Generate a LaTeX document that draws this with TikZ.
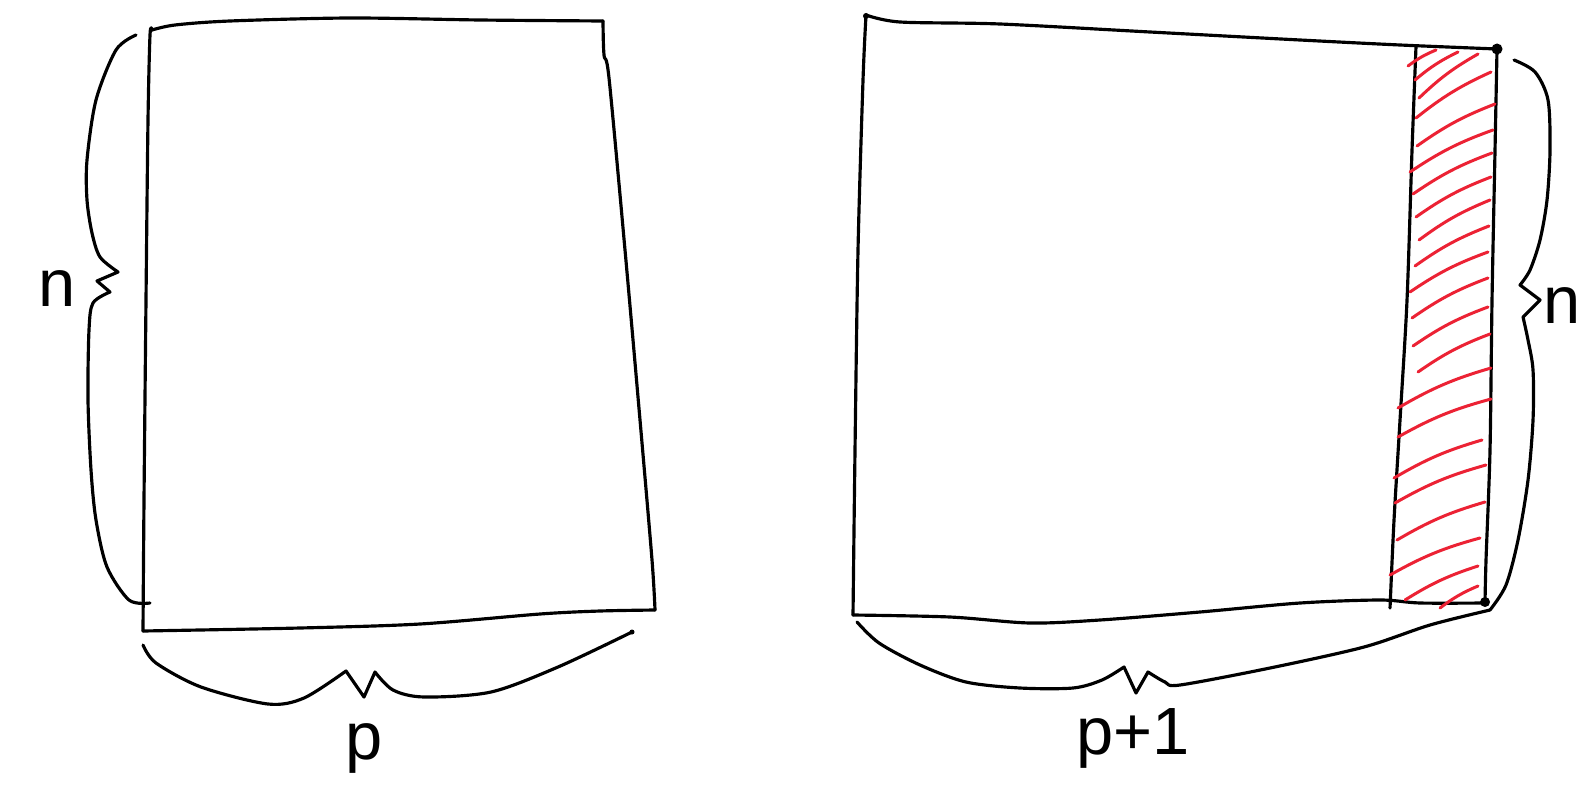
\documentclass[tikz,border=0pt]{standalone}
\usepackage{fontspec}
\setmainfont{Liberation Sans}
\definecolor{redpen}{RGB}{236,34,52}

\begin{document}
\begin{tikzpicture}[x=0.01cm, y=-0.01cm,
    sketch/.style={line width=0.9pt, line cap=round, line join=round},
    hatch/.style={redpen, line width=0.85pt, line cap=round},
    lbl/.style={font=\fontsize{19}{22}\selectfont, inner sep=0pt},
  ]
  \fill[white] (0,0) rectangle (1592,785);
  \useasboundingbox (0,0) rectangle (1592,785);

  % left matrix
  \draw[sketch] plot[smooth] coordinates {(152,30) (175,25) (230,21) (350,18) (480,20) (603,21)};
  \draw[sketch] plot[smooth] coordinates {(603,21) (604,55) (609,78) (625,250) (640,420) (652,560) (655,610)};
  \draw[sketch] plot[smooth] coordinates {(655,610) (600,611) (540,614) (420,624) (300,628) (143,631)};
  \draw[sketch] plot[smooth] coordinates {(143,631) (144,500) (146,300) (148,120) (150,35) (152,30)};

  % right matrix
  \draw[sketch] plot[smooth] coordinates {(866,15) (900,22) (1000,24) (1150,32) (1300,40) (1400,45) (1497,49)};
  \draw[sketch] plot[smooth] coordinates {(1497,49) (1495,150) (1492,300) (1490,450) (1486,560) (1485,603)};
  \draw[sketch] plot[smooth] coordinates {(1485,603) (1420,603) (1380,600) (1300,603) (1200,612) (1100,620) (1030,623) (950,617) (853,615)};
  \draw[sketch] plot[smooth] coordinates {(853,615) (855,450) (858,250) (863,80) (866,15)};
  \draw[sketch] plot[smooth] coordinates {(1416,46) (1412,150) (1407,300) (1400,420) (1394,520) (1390,608)};
  \fill (866,16) circle (3);
  \fill (1497,49) circle (5.5);
  \fill (1485,602) circle (5);
  \fill (632,632) circle (2.5);

  \foreach \xa/\ya/\xb/\yb in {1408/66/1436/50, 1415/80/1458/52, 1419/98/1478/54,
      1416/118/1491/72, 1417/146/1495/104, 1410/172/1493/130, 1413/194/1492/153,
      1416/217/1491/177, 1419/240/1490/200, 1415/266/1489/226, 1410/292/1488/252,
      1412/318/1488/278, 1413/346/1488/307, 1418/372/1490/334, 1398/408/1491/368,
      1398/437/1491/399, 1394/478/1482/440, 1395/503/1486/465, 1397/540/1485/502,
      1390/575/1480/538, 1405/600/1478/566, 1440/608/1478/586}
    \draw[hatch] (\xa,\ya) to[bend left=7] (\xb,\yb);

  % braces
  \draw[sketch] plot[smooth] coordinates {(136,35) (116,50) (96,100) (87,160) (87,200) (92,233) (100,257) (118,272)}
    -- (97,281) -- (110,292)
    -- plot[smooth] coordinates {(110,292) (93,303) (89,330) (88,400) (91,470) (96,520) (107,567) (129,600) (150,603)};
  \draw[sketch] plot[smooth] coordinates {(143,645) (156,663) (201,687) (268,704) (304,698) (346,671)}
    -- (364,697) -- (375,672)
    -- plot[smooth] coordinates {(375,672) (393,690) (424,697) (491,692) (558,667) (632,632)};
  \draw[sketch] plot[smooth] coordinates {(1514,60) (1535,72) (1548,100) (1550,150) (1547,200) (1540,240) (1530,270) (1520,285)}
    -- (1540,300) -- (1523,317)
    -- plot[smooth] coordinates {(1523,317) (1528,340) (1533,370) (1533,420) (1528,480) (1518,540) (1506,585) (1490,610)};
  \draw[sketch] plot[smooth] coordinates {(857,622) (879,643) (920,665) (966,682) (1020,688) (1073,688) (1102,680) (1124,667)}
    -- (1136,693) -- (1148,672)
    -- plot[smooth] coordinates {(1148,672) (1165,682) (1180,685) (1270,668) (1364,647) (1430,625) (1490,610)};

  \node[lbl] (nleft) at (57,289) {n};
  \node[lbl] (pleft) at (364,748) {p};
  \node[lbl] (nright) at (1562,306) {n};
  \node[lbl] (pright) at (1133,738) {p+1};
\end{tikzpicture}
\end{document}
